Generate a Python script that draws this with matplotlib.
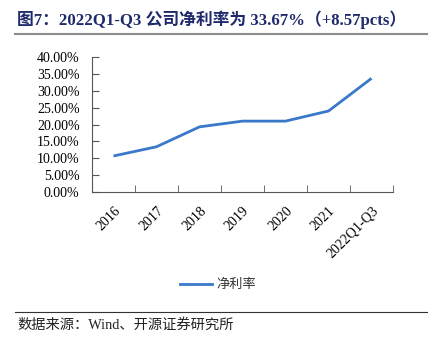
import matplotlib
matplotlib.use('Agg')
import matplotlib.pyplot as plt
from matplotlib.lines import Line2D

# data
years = ['2016', '2017', '2018', '2019', '2020', '2021', '2022Q1-Q3']
net_margin = [10.67, 13.4, 19.3, 21.0, 21.0, 24.0, 33.67]
yticks = [0, 5, 10, 15, 20, 25, 30, 35, 40]

serif_cjk = ['Liberation Serif', 'Noto Sans CJK SC']

fig = plt.figure(figsize=(4.37, 3.37), dpi=100)
ax = fig.add_axes([92/437, 1-192/337, (393-92)/437, (192-57)/337])

x = list(range(len(years)))
ax.plot(x, net_margin, color='#3A78C9', lw=2.0, solid_capstyle='butt')

ax.set_xlim(-0.5, len(years) - 0.5)
ax.set_ylim(0, 40)
ax.set_yticks(yticks)
ax.set_yticklabels(['%.2f%%' % v for v in yticks], family=serif_cjk, fontsize=10)
ax.set_xticks([i - 0.5 for i in range(len(years) + 1)], minor=True)
ax.set_xticks(x)
ax.set_xticklabels(years, family=serif_cjk, fontsize=10, rotation=45,
                   ha='right', va='top', rotation_mode='anchor')
ax.tick_params(axis='x', which='major', length=0, pad=9)
ax.tick_params(axis='x', which='minor', direction='in', length=5, color='#555555')
ax.tick_params(axis='y', direction='in', length=5, color='#555555', pad=9)
for s in ['top', 'right']:
    ax.spines[s].set_visible(False)
for s in ['left', 'bottom']:
    ax.spines[s].set_color('#555555')
    ax.spines[s].set_linewidth(0.8)

# legend
h = Line2D([], [], color='#3A78C9', lw=2.0)
fig.legend([h], ['净利率'], loc='center', bbox_to_anchor=(218/437, 1-285/337),
           frameon=False, prop={'family': serif_cjk, 'size': 9.5},
           handlelength=2.4, handletextpad=0.3, labelcolor='#333333')

# title and rules
fig.text(17/437, 1-20/337, '图7：2022Q1-Q3 公司净利率为 33.67%（+8.57pcts）',
         family=serif_cjk, fontsize=12.1, fontweight='bold', color='#1F2A6B',
         ha='left', va='center')
fig.add_artist(Line2D([15/437, 427/437], [1-34/337, 1-34/337], color='#8C8C8C', lw=1.5))
fig.add_artist(Line2D([15/437, 427/437], [1-312/337, 1-312/337], color='#333333', lw=0.8))
fig.text(17/437, 1-325/337, '数据来源：Wind、开源证券研究所',
         family=serif_cjk, fontsize=10.3, color='#222222', ha='left', va='center')

fig.savefig('out.png', dpi=100)
